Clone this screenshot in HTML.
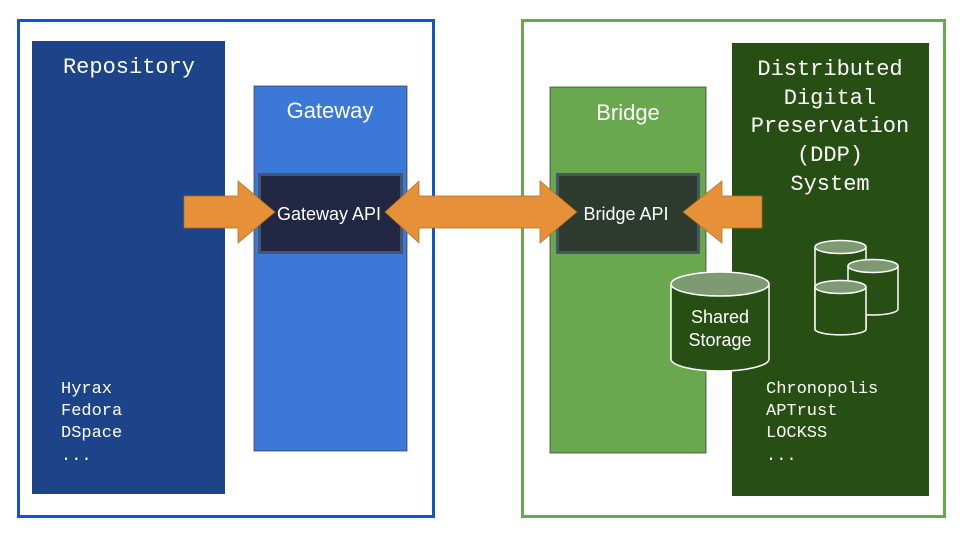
<!DOCTYPE html>
<html><head><style>body{margin:0;background:#fff}svg{display:block}</style></head><body>
<svg width="960" height="540" viewBox="0 0 960 540" xmlns="http://www.w3.org/2000/svg">
<rect width="960" height="540" fill="#fff"/>
<rect x="18.5" y="20.5" width="415" height="496" fill="none" stroke="#1155cc" stroke-width="3"/>
<rect x="522.5" y="20.5" width="422" height="496" fill="none" stroke="#6aa84f" stroke-width="3"/>
<rect x="32" y="41" width="193" height="453" fill="#1d4489"/>
<text x="129" y="73" font-family="Liberation Mono, monospace" font-size="22" fill="#fff" text-anchor="middle">Repository</text>
<g font-family="Liberation Mono, monospace" font-size="17" fill="#fff">
<text x="61" y="393">Hyrax</text><text x="61" y="415">Fedora</text><text x="61" y="437">DSpace</text><text x="61" y="460">...</text>
</g>
<rect x="254" y="86" width="153" height="365" fill="#3c78d8" stroke="#333" stroke-width="0.7"/>
<text x="330" y="118" font-family="Liberation Sans, sans-serif" font-size="22" fill="#fff" text-anchor="middle">Gateway</text>
<rect x="550" y="87" width="156" height="366" fill="#6aa84f" stroke="#333" stroke-width="0.7"/>
<text x="628" y="120" font-family="Liberation Sans, sans-serif" font-size="22" fill="#fff" text-anchor="middle">Bridge</text>
<rect x="732" y="43" width="197" height="453" fill="#274e13"/>
<g font-family="Liberation Mono, monospace" font-size="22" fill="#fff" text-anchor="middle">
<text x="830" y="75">Distributed</text><text x="830" y="104">Digital</text><text x="830" y="132">Preservation</text><text x="830" y="161">(DDP)</text><text x="830" y="190">System</text>
</g>
<g font-family="Liberation Mono, monospace" font-size="17" fill="#fff">
<text x="766" y="393">Chronopolis</text><text x="766" y="415">APTrust</text><text x="766" y="437">LOCKSS</text><text x="766" y="460">...</text>
</g>
<rect x="259.5" y="174.5" width="142" height="78" fill="#222844" stroke="#44576a" stroke-width="3"/>
<rect x="557.5" y="174.5" width="141" height="78" fill="#2d3a2e" stroke="#44576a" stroke-width="3"/>
<g fill="#e69138" stroke="#b06a20" stroke-width="0.7">
<polygon points="184,196 238,196 238,181 275,212 238,243 238,228 184,228"/>
<polygon points="385,212 419,181 419,196 540,196 540,181 577,212 540,243 540,228 419,228 419,243"/>
<polygon points="762,196 722,196 722,181 683,212 722,243 722,228 762,228"/>
</g>
<g font-family="Liberation Sans, sans-serif" font-size="18" fill="#fff" text-anchor="middle">
<text x="329" y="220">Gateway API</text><text x="626" y="220">Bridge API</text>
</g>
<g stroke="#fff" stroke-width="1.5">
<path d="M671,284 V359 A49,12 0 0 0 769,359 V284" fill="#274e13"/>
<ellipse cx="720" cy="284" rx="49" ry="12" fill="#7e9a72"/>
<path d="M815,247 V328 A26,6 0 0 0 866,328 V247" fill="#274e13"/>
<ellipse cx="840.5" cy="247" rx="25.5" ry="6.5" fill="#7e9a72"/>
<path d="M848,266 V309 A25,6 0 0 0 898,309 V266" fill="#274e13"/>
<ellipse cx="873" cy="266" rx="25" ry="6.5" fill="#7e9a72"/>
<path d="M815,287 V330 A26,6 0 0 0 866,330 V287" fill="#274e13"/>
<ellipse cx="840.5" cy="287" rx="25.5" ry="6.5" fill="#7e9a72"/>
</g>
<g font-family="Liberation Sans, sans-serif" font-size="18" fill="#fff" text-anchor="middle">
<text x="720" y="323">Shared</text><text x="720" y="346">Storage</text>
</g>
</svg>
</body></html>
